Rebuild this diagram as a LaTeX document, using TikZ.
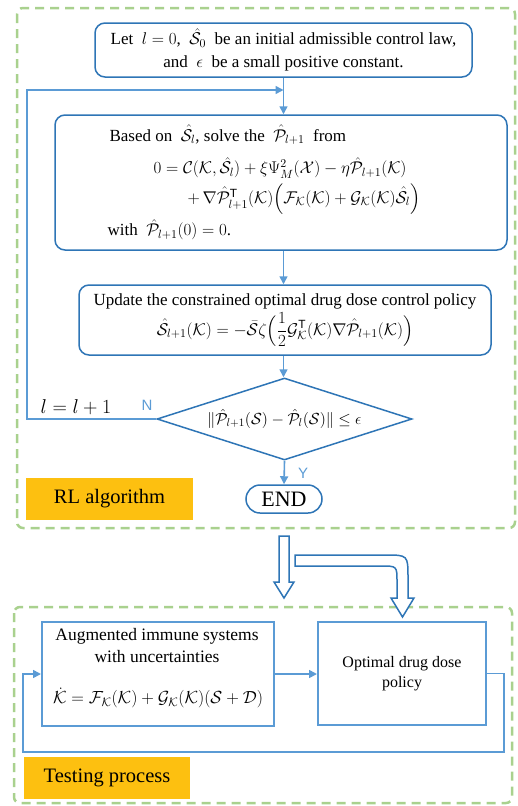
\RequirePackage{fix-cm}
\documentclass[tikz,border=0pt]{standalone}
\usepackage{amsmath,amssymb}
\usepackage{fontspec}
\setmainfont{Liberation Serif}
\setsansfont{Liberation Sans}
\usetikzlibrary{shapes.geometric,arrows.meta}
\definecolor{dblue}{HTML}{2E75B6}
\definecolor{lblue}{HTML}{5B9BD5}
\definecolor{lgreen}{HTML}{A9D18E}
\definecolor{orng}{HTML}{FDC010}
\tikzset{
  greenbox/.style={draw=lgreen, line width=2.5pt, dash pattern=on 9pt off 6pt, rounded corners=6pt},
  rbox/.style={draw=dblue, line width=1.5pt, rounded corners=10pt, fill=white, inner sep=0pt},
  sbox/.style={draw=lblue, line width=2pt, inner sep=0pt},
  conn/.style={draw=lblue, line width=1.6pt, -{Triangle[length=8pt,width=8pt]}},
  tag/.style={fill=orng, inner sep=0pt, font=\fontsize{20.5}{24}\selectfont},
  fs/.style={font=\fontsize{17}{22.5}\selectfont},
  yn/.style={text=lblue, font=\sffamily\fontsize{15}{18}\selectfont},
  hollow/.style={draw=dblue, line width=1.5pt, fill=white, line join=miter}
}
\begin{document}
\begin{tikzpicture}[x=1pt,y=-1pt]
\useasboundingbox (0,0) rectangle (518,806);
% green frames
\draw[greenbox] (17,8) rectangle (515,528);
\draw[greenbox] (14,607) rectangle (512,803);

% top flow
\node[rbox, minimum width=377pt, minimum height=54pt, align=center, fs] (b1) at (283.5,50)
  {Let\ \ $l=0$,\ \ $\hat{\mathcal{S}}_0$\ \ be an initial admissible control law,\\
   and\ \ $\epsilon$\ \ be a small positive constant.};
\node[rbox, minimum width=452pt, minimum height=135pt] (b2) at (281,182.5) {};
\node[fs, anchor=west] (t1) at (106,135)
  {Based on\ \ $\hat{\mathcal S}_l$, solve the\ \ $\hat{\mathcal P}_{l+1}$\ \ from};
\node[fs, anchor=west] (t2) at (150,168)
  {$0=\mathcal C(\mathcal K,\hat{\mathcal S}_l)+\xi\Psi_M^2(\mathcal X)-\eta\hat{\mathcal P}_{l+1}(\mathcal K)$};
\node[fs, anchor=west] (t3) at (184,199)
  {$+\,\nabla\hat{\mathcal P}_{l+1}^{\mathsf T}(\mathcal K)\Bigl(\mathcal F_{\mathcal K}(\mathcal K)+\mathcal G_{\mathcal K}(\mathcal K)\hat{\mathcal S}_l\Bigr)$};
\node[fs, anchor=west] (t4) at (104,230)
  {with\ \ $\hat{\mathcal P}_{l+1}(0)=0$.};
\node[rbox, minimum width=412pt, minimum height=70pt, align=center, fs] (b3) at (285,320)
  {Update the constrained optimal drug dose control policy\\[3pt]
   $\hat{\mathcal S}_{l+1}(\mathcal K)=-\bar{\mathcal S}\zeta\Bigl(\dfrac12\mathcal G_{\mathcal K}^{\mathsf T}(\mathcal K)\nabla\hat{\mathcal P}_{l+1}(\mathcal K)\Bigr)$};
\node[diamond, draw=dblue, line width=1.5pt, fill=white, minimum width=255pt, minimum height=82pt, inner sep=0pt, aspect=3.1,
      font=\fontsize{16}{19}\selectfont] (d) at (284.5,419)
  {$\|\hat{\mathcal P}_{l+1}(\mathcal S)-\hat{\mathcal P}_l(\mathcal S)\|\le\epsilon$};
\node[rbox, rounded corners=14pt, minimum width=76pt, minimum height=28pt, font=\fontsize{22}{24}\selectfont] (e) at (284,499) {END};
\node[tag, minimum width=167pt, minimum height=42pt] (rl) at (109.5,499) {RL algorithm};

% connectors top
\coordinate (lp) at (27,90);
\coordinate (jn) at (283.5,90);
\draw[conn] (b1.south) -- (b1.south |- b2.north);
\draw[conn] (b1.south |- b2.south) -- (b1.south |- b3.north);
\draw[conn] (b1.south |- b3.south) -- (b1.south |- d.north);
\draw[conn] (d.south) -- (e.north);
\draw[conn] (d.west) -| (lp) -- (jn);
\node[font=\fontsize{20}{24}\selectfont] (inc) at (76,407) {$l=l+1$};
\node[yn] (nl) at (147,405) {N};
\node[yn] (yl) at (303,473) {Y};

% hollow arrows
\draw[hollow] (279,536) -- (289,536) -- (289,582) -- (294,582) -- (284,598) -- (274,582) -- (279,582) -- cycle;
\draw[hollow] (295,555) -- (385,555) .. controls (408,555) .. (408,578) -- (408,598) -- (414,598) -- (402.5,617)
  -- (391,598) -- (397,598) -- (397,582) .. controls (397,566) .. (381,566) -- (295,566) -- cycle;

% bottom
\node[sbox, fill=white, minimum width=232pt, minimum height=104pt] (ba) at (158,674) {};
\node[align=center, font=\fontsize{17.5}{22}\selectfont] (ta) at (157,646) {Augmented immune systems\\with uncertainties};
\node[font=\fontsize{17.5}{22}\selectfont] (tb) at (158,698)
  {$\dot{\mathcal K}=\mathcal F_{\mathcal K}(\mathcal K)+\mathcal G_{\mathcal K}(\mathcal K)(\mathcal S+\mathcal D)$};
\node[sbox, fill=white, minimum width=168pt, minimum height=103pt, align=center, font=\fontsize{16}{20}\selectfont] (bb) at (402,673.5)
  {Optimal drug dose\\policy};
\node[tag, minimum width=166pt, minimum height=42pt] (tp) at (107,778) {Testing process};
\coordinate (fr) at (504,752);
\coordinate (fl) at (23,752);
\draw[conn] (ba.east) -- (ba.east -| bb.west);
\draw[conn] (bb.east) -| (fr) -- (fl) |- (ba.west);
\end{tikzpicture}
\end{document}
